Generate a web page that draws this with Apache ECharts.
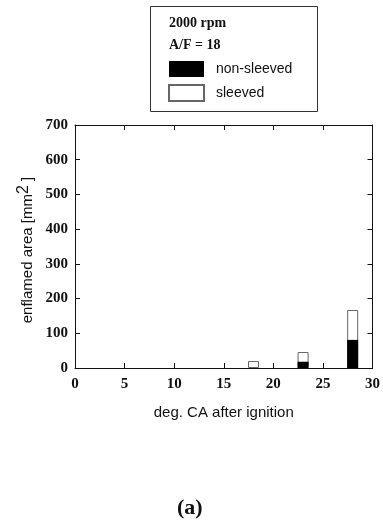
<!DOCTYPE html>
<html>
<head>
<meta charset="utf-8">
<script src="https://cdn.jsdelivr.net/npm/echarts@6/dist/echarts.min.js"></script>
<style>
  html, body { margin: 0; padding: 0; background: #fff; }
  #container { width: 383px; height: 526px; }
</style>
</head>
<body>
<div id="container"></div>
<script>
const dom = document.getElementById('container')
const myChart = echarts.init(dom, null, { renderer: 'canvas' })

// crank angle positions of the bars
const angles = [18, 23, 28]
const nonSleeved = [0, 18, 81]
const sleeved = [20, 46, 167]

const serif = '"Liberation Serif", "DejaVu Serif", serif'
const sans = '"Liberation Sans", Arial, sans-serif'

const toPairs = (vals) => angles.map((a, i) => [a, vals[i]])

const tickLabel = {
    fontFamily: serif,
    fontWeight: 'bold',
    fontSize: 15,
    color: '#111'
}

const frameLine = { show: true, onZero: false, lineStyle: { color: '#111' } }
const frameTick = { show: true, inside: true, length: 5, lineStyle: { color: '#111' } }

const option = {
    backgroundColor: '#fff',
    animation: false,
    grid: { left: 75, right: 5, top: 125, bottom: 158 },
    legend: {
        orient: 'vertical',
        left: 168,
        top: 61,
        padding: 0,
        itemWidth: 35,
        itemHeight: 16,
        itemGap: 7,
        icon: 'rect',
        textStyle: { fontFamily: sans, fontSize: 14, color: '#111', padding: [0, 0, 0, 7] },
        data: ['non-sleeved', 'sleeved']
    },
    xAxis: [
        {
            type: 'value',
            min: 0,
            max: 30,
            interval: 5,
            name: 'deg. CA after ignition',
            nameLocation: 'middle',
            nameGap: 37,
            nameTextStyle: { fontFamily: sans, fontSize: 15, color: '#111' },
            axisLine: frameLine,
            axisTick: frameTick,
            axisLabel: { ...tickLabel, margin: 9 },
            splitLine: { show: false }
        },
        {
            type: 'value',
            position: 'top',
            min: 0,
            max: 30,
            interval: 5,
            axisLine: frameLine,
            axisTick: frameTick,
            axisLabel: { show: false },
            splitLine: { show: false }
        }
    ],
    yAxis: [
        {
            type: 'value',
            min: 0,
            max: 700,
            interval: 100,
            axisLine: frameLine,
            axisTick: frameTick,
            axisLabel: { ...tickLabel, margin: 7 },
            splitLine: { show: false }
        },
        {
            type: 'value',
            position: 'right',
            min: 0,
            max: 700,
            interval: 100,
            axisLine: frameLine,
            axisTick: frameTick,
            axisLabel: { show: false },
            splitLine: { show: false }
        }
    ],
    series: [
        {
            name: 'sleeved',
            type: 'bar',
            data: toPairs(sleeved),
            barWidth: 11,
            barGap: '-100%',
            itemStyle: { color: '#fff', borderColor: '#666', borderWidth: 1 }
        },
        {
            name: 'non-sleeved',
            type: 'bar',
            data: toPairs(nonSleeved),
            barWidth: 11,
            barGap: '-100%',
            itemStyle: { color: '#000' }
        }
    ],
    graphic: [
        {
            type: 'rect',
            shape: { x: 150.5, y: 6.5, width: 167, height: 105 },
            style: { fill: 'none', stroke: '#333', lineWidth: 1 },
            z: -1
        },
        {
            type: 'text',
            left: 169,
            top: 16,
            style: { text: '2000 rpm', font: 'bold 14px ' + serif, fill: '#111' }
        },
        {
            type: 'text',
            left: 169,
            top: 38,
            style: { text: 'A/F = 18', font: 'bold 14px ' + serif, fill: '#111' }
        },
        {
            // y axis title with superscript, rotated to read bottom to top
            type: 'text',
            x: 28,
            y: 250,
            rotation: Math.PI / 2,
            style: {
                text: 'enflamed area [mm{sup|2} ]',
                font: '15px ' + sans,
                fill: '#111',
                align: 'center',
                verticalAlign: 'middle',
                rich: {
                    sup: { fontFamily: sans, fontSize: 16, verticalAlign: 'top', padding: [0, 0, 8, 0] }
                }
            }
        },
        {
            type: 'text',
            left: 177,
            top: 497,
            style: { text: '(a)', font: 'bold 22px ' + serif, fill: '#111' }
        }
    ]
}

myChart.setOption(option)
</script>
</body>
</html>
